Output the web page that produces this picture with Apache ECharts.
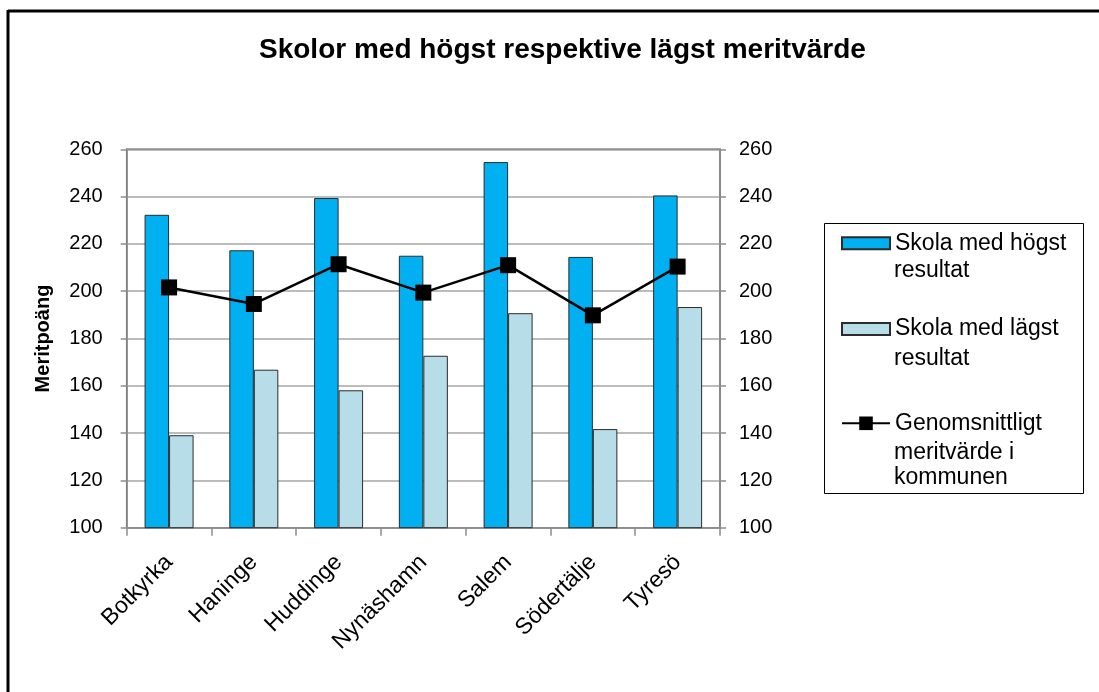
<!DOCTYPE html>
<html>
<head>
<meta charset="utf-8">
<script src="https://cdn.jsdelivr.net/npm/echarts@6/dist/echarts.min.js"></script>
<style>html,body{margin:0;padding:0;background:#fff}#c{width:1099px;height:692px}</style>
</head>
<body>
<div id="c"></div>
<script>
var categories = ['Botkyrka', 'Haninge', 'Huddinge', 'Nynäshamn', 'Salem', 'Södertälje', 'Tyresö'];
var highest = [232.3, 217.3, 239.4, 215.0, 254.6, 214.5, 240.5];
var lowest = [139.1, 166.8, 158.1, 172.7, 190.7, 141.7, 193.3];
var average = [201.6, 194.6, 211.4, 199.4, 211.0, 189.8, 210.4];
var seriesNames = ['Skola med högst resultat', 'Skola med lägst resultat', 'Genomsnittligt meritvärde i kommunen'];
var legendFirstLines = ['Skola med högst', 'Skola med lägst', 'Genomsnittligt'];
var legendMoreLines = [['resultat'], ['resultat'], ['meritvärde i', 'kommunen']];
var yMin = 100, yMax = 260, yStep = 20;

var FONT = "'Liberation Sans', Arial, sans-serif";
var chart = echarts.init(document.getElementById('c'), null, {renderer: 'canvas'});

function yAxisCfg(pos, margin, withName) {
  var a = {
    type: 'value', position: pos, min: yMin, max: yMax, interval: yStep,
    axisLine: {show: true, lineStyle: {color: '#8c8c8c', width: 1.5}},
    axisTick: {show: true, length: 6, lineStyle: {color: '#8c8c8c', width: 1.5}},
    axisLabel: {color: '#000', fontSize: 20, fontFamily: FONT, margin: margin},
    splitLine: {show: withName, lineStyle: {color: '#a6a6a6', width: 1.5}}
  };
  if (withName) {
    a.name = 'Meritpoäng';
    a.nameLocation = 'middle';
    a.nameGap = 73;
    a.nameTextStyle = {color: '#000', fontSize: 20, fontWeight: 'bold', fontFamily: FONT};
  }
  return a;
}

var legendTops = [243.3, 329, 423.3];
var legends = seriesNames.map(function (n, i) {
  return {
    data: [{name: n, icon: i === 2 ? undefined : 'rect'}], orient: 'vertical', left: 841, top: legendTops[i] - 14, padding: 0,
    itemWidth: 48, itemHeight: i === 2 ? 17 : 12,
    formatter: function () { return legendFirstLines[i]; },
    textStyle: {color: '#000', fontSize: 23, fontFamily: FONT, lineHeight: 28},
    selectedMode: false
  };
});

var moreCenters = [[271], [358.7], [452.3, 478]];
var graphics = [
  {type: 'line', shape: {x1: 8, y1: 10, x2: 8, y2: 692}, style: {stroke: '#000', lineWidth: 3}},
  {type: 'line', shape: {x1: 8, y1: 11, x2: 1099, y2: 11}, style: {stroke: '#000', lineWidth: 3}},
  {type: 'rect', shape: {x: 824.5, y: 223.5, width: 259, height: 270}, style: {fill: 'none', stroke: '#000', lineWidth: 1}, z: -1}
];
legendMoreLines.forEach(function (lines, i) {
  lines.forEach(function (t, j) {
    graphics.push({type: 'text', x: 894, y: moreCenters[i][j],
      style: {text: t, fill: '#000', font: '23px ' + FONT, textVerticalAlign: 'middle', verticalAlign: 'middle'}});
  });
});

chart.setOption({
  animation: false,
  backgroundColor: '#fff',
  title: {
    text: 'Skolor med högst respektive lägst meritvärde', left: 254, top: 31,
    textStyle: {color: '#000', fontSize: 28, fontWeight: 'bold', fontFamily: FONT}
  },
  legend: legends,
  grid: {left: 126.7, right: 379, top: 149.3, bottom: 164.3, show: true, borderColor: '#555', borderWidth: 1.5, backgroundColor: 'transparent'},
  xAxis: {
    type: 'category', data: categories, boundaryGap: true,
    axisLine: {lineStyle: {color: '#8c8c8c', width: 1.5}},
    axisTick: {show: true, length: 8, alignWithLabel: false, lineStyle: {color: '#8c8c8c', width: 1.5}},
    axisLabel: {color: '#000', fontSize: 23, fontFamily: FONT, rotate: 45, margin: 31, interval: 0},
    splitLine: {show: false}
  },
  yAxis: [yAxisCfg('left', 24, true), yAxisCfg('right', 19, false)],
  graphic: graphics,
  series: [
    {name: seriesNames[0], type: 'bar', data: highest, barWidth: 24.5, barGap: '0%',
      itemStyle: {color: '#00b0f0', borderColor: '#2b2b2b', borderWidth: 1}},
    {name: seriesNames[1], type: 'bar', data: lowest, barWidth: 24.5, barGap: '0%',
      itemStyle: {color: '#b7dde8', borderColor: '#2b2b2b', borderWidth: 1}},
    {name: seriesNames[2], type: 'line', data: average, symbol: 'rect', symbolSize: 16,
      lineStyle: {color: '#000', width: 2.5}, itemStyle: {color: '#000'}, z: 5}
  ]
});
</script>
</body>
</html>
